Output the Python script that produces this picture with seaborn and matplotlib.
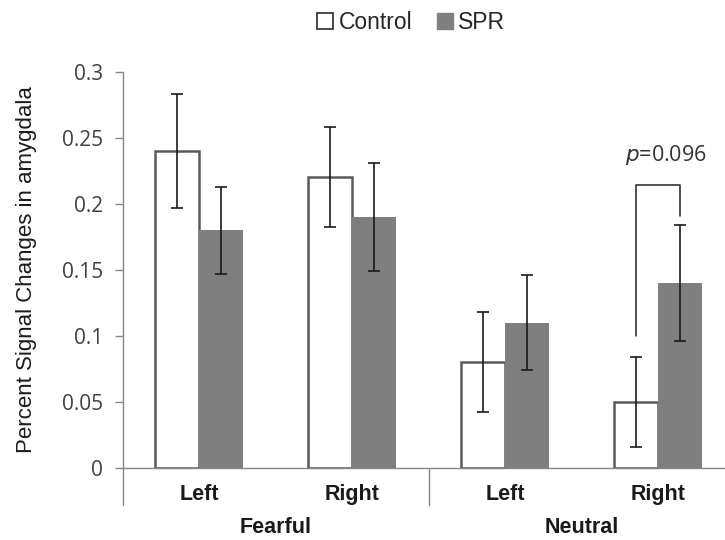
import matplotlib
matplotlib.use("Agg")
import matplotlib.pyplot as plt
import matplotlib.transforms as mtransforms
from matplotlib.lines import Line2D
import seaborn as sns
import pandas as pd
import numpy as np

# ---- data ----
emotions = ["Fearful", "Fearful", "Neutral", "Neutral"]
sides = ["Left", "Right", "Left", "Right"]
groups = ["Control", "SPR"]
control_vals = [0.24, 0.22, 0.08, 0.05]
spr_vals = [0.18, 0.19, 0.11, 0.14]
control_err = [0.043, 0.038, 0.038, 0.034]
spr_err = [0.033, 0.041, 0.036, 0.044]
yticks = [0, 0.05, 0.1, 0.15, 0.2, 0.25, 0.3]
ytick_labels = ["0", "0.05", "0.1", "0.15", "0.2", "0.25", "0.3"]
p_text = "=0.096"

cats = [f"{e}-{s}" for e, s in zip(emotions, sides)]
df = pd.DataFrame({
    "cat": cats * 2,
    "group": ["Control"] * 4 + ["SPR"] * 4,
    "value": control_vals + spr_vals,
})

sns.set_style("white")
plt.rcParams["font.family"] = ["Liberation Sans", "DejaVu Sans"]

fig = plt.figure(figsize=(7.25, 5.4), dpi=100)
ax = fig.add_axes([122.5 / 725, 1 - 467.7 / 540, 1 - 122.5 / 725, (467.7 - 71.7) / 540])

grey = "#7f7f7f"
sns.barplot(data=df, x="cat", y="value", hue="group", order=cats, hue_order=groups,
            palette={"Control": "white", "SPR": grey}, width=0.576, gap=0,
            errorbar=None, legend=False, ax=ax)

errs = [control_err, spr_err]
for i, (cont, err) in enumerate(zip(ax.containers, errs)):
    for patch in cont:
        if i == 0:
            patch.set_edgecolor("#5a5a5a")
            patch.set_linewidth(1.8)
        else:
            patch.set_linewidth(0)
    xs = [p.get_x() + p.get_width() / 2 for p in cont]
    ys = [p.get_height() for p in cont]
    ax.errorbar(xs, ys, yerr=err, fmt="none", ecolor="#1a1a1a", elinewidth=1.2,
                capsize=4, capthick=1.2, zorder=5)

ax.set_ylim(0, 0.3)
ax.set_xlim(-0.5, -0.5 + (725 - 122.5) / 153)
ax.set_yticks(yticks)
ax.set_yticklabels(ytick_labels, fontsize=15, color="#404040", family=["Open Sans", "DejaVu Sans"])
ax.tick_params(axis="y", direction="out", length=6, width=1, color="#868686", pad=8, left=True)
ax.tick_params(axis="x", length=0, pad=12)
ax.set_xticks(range(4))
ax.set_xticklabels(sides, fontsize=15.5, fontweight="bold", color="#1a1a1a")
ax.set_xlabel("")
ax.set_ylabel("Percent Signal Changes in amygdala", fontsize=16, color="#1a1a1a")
ax.yaxis.set_label_coords((37 - 122.5) / 602.5, 0.5)

for s in ["top", "right"]:
    ax.spines[s].set_visible(False)
ax.spines["left"].set_color("#868686")
ax.spines["bottom"].set_color("#868686")
ax.spines["left"].set_linewidth(1)
ax.spines["bottom"].set_linewidth(1)

# multilevel category dividers
trans = mtransforms.blended_transform_factory(ax.transData, ax.transAxes)
for xv in [-0.5, 1.5]:
    ax.add_line(Line2D([xv, xv], [0, -0.094], transform=trans, color="#868686", lw=1, clip_on=False))
ax.text(0.5, -0.15, "Fearful", transform=trans, ha="center", va="center",
        fontsize=15.5, fontweight="bold", color="#1a1a1a")
ax.text(2.5, -0.15, "Neutral", transform=trans, ha="center", va="center",
        fontsize=15.5, fontweight="bold", color="#1a1a1a")

# significance bracket
c_right = ax.containers[0][3]
s_right = ax.containers[1][3]
xl = c_right.get_x() + c_right.get_width() / 2
xr = s_right.get_x() + s_right.get_width() / 2
ax.plot([xl, xl, xr, xr], [0.100, 0.214, 0.214, 0.191], color="#222222", lw=1.1)
ax.text((xl + xr) / 2 + 0.05, 0.237, r"$\it{p}$" + p_text, ha="center", va="center",
        fontsize=15.5, color="#333333", family=["Open Sans", "DejaVu Sans"])

# legend
handles = [
    Line2D([], [], marker="s", linestyle="none", markersize=11, markerfacecolor="white",
           markeredgecolor="#3a3a3a", markeredgewidth=1.3),
    Line2D([], [], marker="s", linestyle="none", markersize=11, markerfacecolor=grey,
           markeredgecolor=grey),
]
fig.legend(handles, groups, loc="center", bbox_to_anchor=(0.565, 1 - 23 / 540), ncol=2,
           frameon=False, fontsize=16.5, handletextpad=0.1, columnspacing=0.9, handlelength=1.0)

fig.savefig("out.png", dpi=100)
